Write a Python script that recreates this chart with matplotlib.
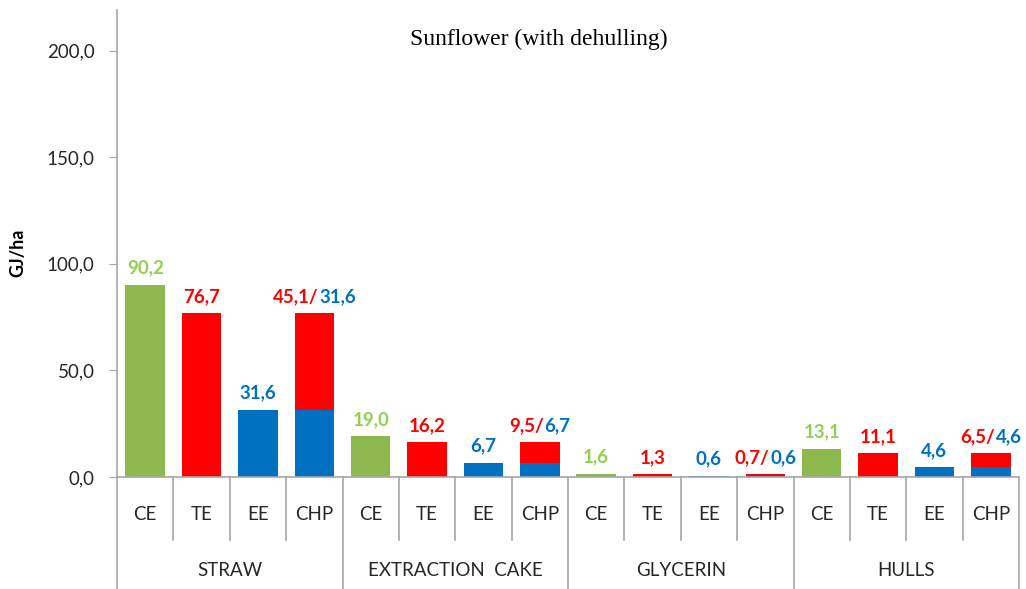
import matplotlib
matplotlib.use("Agg")
import matplotlib.pyplot as plt
import matplotlib.transforms as mtransforms
import numpy as np

# ---- data ----
groups = ["STRAW", "EXTRACTION  CAKE", "GLYCERIN", "HULLS"]
subcats = ["CE", "TE", "EE", "CHP"]
ce = [90.2, 19.0, 1.6, 13.1]
te = [76.7, 16.2, 1.3, 11.1]
ee = [31.6, 6.7, 0.6, 4.6]
chp_thermal = [45.1, 9.5, 0.7, 6.5]
chp_electric = [31.6, 6.7, 0.6, 4.6]
yticks = [0, 50, 100, 150, 200]

GREEN = "#8CB84E"
GREEN_TXT = "#92D050"
RED = "#FF0000"
BLUE = "#0070C0"
GRAY = "#A6A6A6"
TXT = "#262626"

plt.rcParams["font.family"] = ["Lato", "DejaVu Sans"]


def fmt(v):
    return f"{v:.1f}".replace(".", ",")


fig = plt.figure(figsize=(10.26, 5.89), dpi=100)
ax = fig.add_axes([117 / 1026, 112 / 589, 902 / 1026, 467 / 589])

ng = len(groups)
ns = len(subcats)
bw = 0.7
x = np.arange(ng * ns)
lab_fs = 13.5

chp_labels = []
for g in range(ng):
    base = g * ns
    ax.bar(base + 0, ce[g], bw, color=GREEN)
    ax.bar(base + 1, te[g], bw, color=RED)
    ax.bar(base + 2, ee[g], bw, color=BLUE)
    ax.bar(base + 3, chp_electric[g], bw, color=BLUE)
    ax.bar(base + 3, chp_thermal[g], bw, bottom=chp_electric[g], color=RED)

    lab_kw = dict(xytext=(0, 6), textcoords="offset points", ha="center",
                  va="bottom", fontsize=lab_fs, fontweight="bold")
    ax.annotate(fmt(ce[g]), (base + 0, ce[g]), color=GREEN_TXT, **lab_kw)
    ax.annotate(fmt(te[g]), (base + 1, te[g]), color=RED, **lab_kw)
    ax.annotate(fmt(ee[g]), (base + 2, ee[g]), color=BLUE, **lab_kw)

    # two-coloured label on the CHP bar: red part ends where blue part starts
    top = chp_thermal[g] + chp_electric[g]
    lab_kw = dict(textcoords="offset points", va="bottom",
                  fontsize=lab_fs, fontweight="bold")
    red_t = ax.annotate(fmt(chp_thermal[g]) + "/", (base + 3, top), xytext=(0, 6),
                        ha="right", color=RED, **lab_kw)
    blue_t = ax.annotate(fmt(chp_electric[g]), (base + 3, top), xytext=(0, 6),
                         ha="left", color=BLUE, **lab_kw)
    chp_labels.append((red_t, blue_t))

ax.set_xlim(-0.5, ng * ns - 0.5)
ax.set_ylim(0, 219)
ax.set_yticks(yticks)
ax.set_yticklabels([fmt(v) for v in yticks], fontsize=13.5, color=TXT)
ax.set_xticks([])
ax.tick_params(axis="y", direction="out", length=6, color=GRAY, pad=10)

for side in ["top", "right"]:
    ax.spines[side].set_visible(False)
for side in ["left", "bottom"]:
    ax.spines[side].set_color(GRAY)
    ax.spines[side].set_linewidth(1.2)

ax.set_ylabel("GJ/ha", fontsize=13, fontweight="bold", color="black")
ax.yaxis.set_label_coords(-0.1, 0.48)

# category axis: separators and two rows of labels
trans = mtransforms.blended_transform_factory(ax.transData, ax.transAxes)
row1 = -63 / 467
row2 = -112 / 467
for k in range(ng * ns + 1):
    edge = k - 0.5
    y_end = row2 if k % ns == 0 else row1
    ax.plot([edge, edge], [0, y_end], color=GRAY, lw=1.2, transform=trans,
            clip_on=False)

for i in x:
    ax.text(i, -38 / 467, subcats[i % ns], transform=trans, ha="center",
            va="center", fontsize=13.5, color=TXT)
for g in range(ng):
    ax.text(g * ns + (ns - 1) / 2, -94 / 467, groups[g], transform=trans,
            ha="center", va="center", fontsize=13.5, color=TXT)

ax.text(0.468, 0.936, "Sunflower (with dehulling)", transform=ax.transAxes,
        ha="center", va="center", fontsize=17, color="black",
        family=["Liberation Serif", "DejaVu Serif"])

# centre each two-coloured label as a whole
fig.canvas.draw()
renderer = fig.canvas.get_renderer()
for red_t, blue_t in chp_labels:
    wr = red_t.get_window_extent(renderer).width
    wb = blue_t.get_window_extent(renderer).width
    shift_pt = (wr - wb) / 2 * 72 / fig.dpi
    red_t.set_position((shift_pt, 6))
    blue_t.set_position((shift_pt + 0.3, 6))

fig.savefig("out.png", dpi=100)
